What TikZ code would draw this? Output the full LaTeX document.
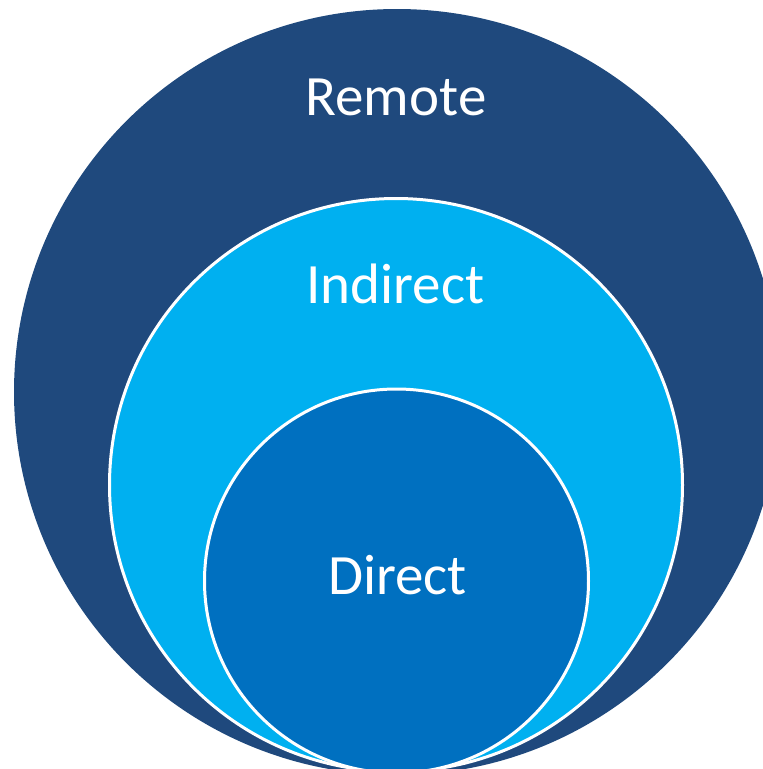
\documentclass[tikz,border=0pt]{standalone}
\usepackage{fontspec}
\setmainfont{Carlito}
\usetikzlibrary{positioning}

\definecolor{remoteblue}{RGB}{31,73,125}
\definecolor{indirectblue}{RGB}{0,176,240}
\definecolor{directblue}{RGB}{0,112,192}

\tikzset{
  ring/.style={circle, inner sep=0pt, outer sep=0pt},
  lbl/.style={text=white, font=\fontsize{57}{60}\selectfont, anchor=base, inner sep=0pt}
}

\begin{document}
\begin{tikzpicture}[x=1pt,y=-1pt]
\useasboundingbox (0,0) rectangle (763,769);
\clip (0,0) rectangle (763,769);

\node[ring, fill=remoteblue, minimum size=766pt](remote) at (397,392){};
\node[ring, fill=indirectblue, draw=white, line width=3pt, minimum size=573pt](indirect) at (396,485){};
\node[ring, fill=directblue, draw=white, line width=3pt, minimum size=384pt](direct) at (396.5,581){};

\node[lbl](remotetext) at (396,115){Remote};
\node[lbl](indirecttext) at (395.5,303){Indirect};
\node[lbl](directtext) at (397.5,594){Direct};
\end{tikzpicture}
\end{document}
